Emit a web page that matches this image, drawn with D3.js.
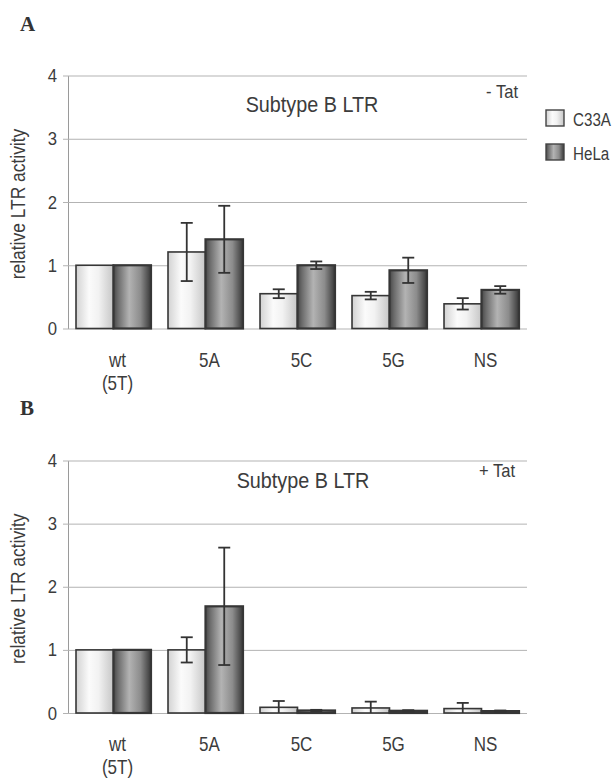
<!DOCTYPE html>
<html>
<head>
<meta charset="utf-8">
<script src="https://cdn.jsdelivr.net/npm/d3@7"></script>
<style>
  html, body { margin: 0; padding: 0; background: #fff; }
  svg { display: block; }
  text { font-family: "Liberation Sans", Arial, sans-serif; fill: #3c3c3c; }
</style>
</head>
<body>
<script>
var
  categories = [['wt', '(5T)'], ['5A'], ['5C'], ['5G'], ['NS']],
  cellLines  = ['C33A', 'HeLa'],
  yTicks     = [0, 1, 2, 3, 4],

  // panel A, - Tat
  noTatC33A     = [1, 1.21, 0.55, 0.52, 0.39],
  noTatC33AErr  = [0, 0.46, 0.07, 0.06, 0.09],
  noTatHeLa     = [1, 1.41, 1.00, 0.92, 0.61],
  noTatHeLaErr  = [0, 0.53, 0.06, 0.20, 0.06],

  // panel B, + Tat
  tatC33A       = [1, 1.00, 0.09, 0.08, 0.07],
  tatC33AErr    = [0, 0.20, 0.10, 0.10, 0.09],
  tatHeLa       = [1, 1.69, 0.04, 0.035, 0.03],
  tatHeLaErr    = [0, 0.93, 0.01, 0.01, 0.01],

  config = {
    w      : 616,
    h      : 778,
    left   : 68,
    right  : 527,
    panels : [
      { letter: 'A', letterY: 31,  top: 75.5,  zero: 328.5, tat: '- Tat', tatX: 518, tatY: 98,
        titleX: 312, titleY: 112, legend: true,
        c33a: noTatC33A, c33aErr: noTatC33AErr, hela: noTatHeLa, helaErr: noTatHeLaErr },
      { letter: 'B', letterY: 415, top: 460.5, zero: 713,   tat: '+ Tat', tatX: 515, tatY: 477,
        titleX: 303, titleY: 488, legend: false,
        c33a: tatC33A, c33aErr: tatC33AErr, hela: tatHeLa, helaErr: tatHeLaErr }
    ]
  },

  svg,

  catName = function catName(c) {
    return c.join(' ');
  },

  // the scan has tall, narrow lettering: squeeze text horizontally
  addText = function addText(parent, x, y, str, size, sx, anchor, rotate) {
    var g = parent.append('g')
      .attr('transform', 'translate(' + x + ',' + y + ')' + (rotate ? ' rotate(' + rotate + ')' : '') + ' scale(' + sx + ',1)');

    return g.append('text')
      .attr('text-anchor', anchor || 'start')
      .attr('font-size', size)
      .text(str);
  },

  addGradients = function addGradients(svg) {
    var defs = svg.append('defs');

    defs.append('linearGradient').attr('id', 'gradC33A')
      .selectAll('stop')
      .data([[0, '#d2d2d2'], [0.35, '#fbfbfb'], [0.6, '#f2f2f2'], [1, '#c6c6c6']])
      .enter().append('stop')
      .attr('offset', function (d) { return d[0]; })
      .attr('stop-color', function (d) { return d[1]; });

    defs.append('linearGradient').attr('id', 'gradHeLa')
      .selectAll('stop')
      .data([[0, '#474747'], [0.12, '#6b6b6b'], [0.42, '#b3b3b3'], [0.72, '#8c8c8c'], [1, '#383838']])
      .enter().append('stop')
      .attr('offset', function (d) { return d[0]; })
      .attr('stop-color', function (d) { return d[1]; });
  },

  drawPanel = function drawPanel(svg, p) {
    var
      x = d3.scaleBand()
        .domain(categories.map(catName))
        .range([config.left, config.right])
        .paddingInner(0.185)
        .paddingOuter(0.087),
      sub = d3.scaleBand().domain(cellLines).range([0, x.bandwidth()]),
      y = d3.scaleLinear().domain([0, 4]).range([p.zero, p.top]),
      g = svg.append('g'),
      rows = [],
      i;

    for (i = 0; i < categories.length; i++) {
      rows.push({ cat: catName(categories[i]), line: 'C33A', v: p.c33a[i], e: p.c33aErr[i] });
      rows.push({ cat: catName(categories[i]), line: 'HeLa', v: p.hela[i], e: p.helaErr[i] });
    }

    // axis + gridlines
    var axis = g.append('g')
      .attr('transform', 'translate(' + config.left + ',0)')
      .call(d3.axisLeft(y).tickValues(yTicks).tickFormat(d3.format('d'))
        .tickSizeInner(-(config.right - config.left)).tickSizeOuter(0).tickPadding(11));

    axis.select('.domain').attr('stroke', '#9a9a9a').attr('stroke-width', 1);
    axis.selectAll('.tick line').attr('x1', -5).attr('stroke', '#b3b3b3').attr('stroke-width', 1);
    axis.selectAll('.tick text')
      .attr('font-size', 19).attr('fill', '#3c3c3c')
      .attr('x', -11 / 0.88)
      .attr('transform', 'scale(0.88,1)')
      .style('font-family', '"Liberation Sans", Arial, sans-serif');

    // bars
    g.selectAll('rect.bar').data(rows).enter().append('rect')
      .attr('class', 'bar')
      .attr('x', function (d) { return x(d.cat) + sub(d.line); })
      .attr('y', function (d) { return y(d.v); })
      .attr('width', sub.bandwidth())
      .attr('height', function (d) { return y(0) - y(d.v); })
      .attr('fill', function (d) { return 'url(#grad' + d.line + ')'; })
      .attr('stroke', '#363636')
      .attr('stroke-width', function (d) { return d.line === 'HeLa' ? 2.2 : 1.6; });

    // error bars
    var errRows = rows.filter(function (d) { return d.e > 0; }),
      cx = function (d) { return x(d.cat) + sub(d.line) + sub.bandwidth() / 2; },
      hi = function (d) { return y(d.v + d.e); },
      lo = function (d) { return y(Math.max(0, d.v - d.e)); },
      eg = g.append('g').attr('stroke', '#333').attr('stroke-width', 1.8);

    eg.selectAll('line.stem').data(errRows).enter().append('line')
      .attr('x1', cx).attr('x2', cx).attr('y1', hi).attr('y2', lo);
    eg.selectAll('line.capHi').data(errRows).enter().append('line')
      .attr('x1', function (d) { return cx(d) - 6; })
      .attr('x2', function (d) { return cx(d) + 6; })
      .attr('y1', hi).attr('y2', hi);
    eg.selectAll('line.capLo').data(errRows.filter(function (d) { return d.v - d.e > 0; })).enter().append('line')
      .attr('x1', function (d) { return cx(d) - 6; })
      .attr('x2', function (d) { return cx(d) + 6; })
      .attr('y1', lo).attr('y2', lo);

    // category labels
    categories.forEach(function (c) {
      var cxl = x(catName(c)) + x.bandwidth() / 2 + 4;
      c.forEach(function (line, j) {
        addText(g, cxl, p.zero + 38 + j * 23, line, 20, 0.85, 'middle');
      });
    });

    // texts
    addText(g, 25, (p.top + p.zero) / 2 + 2, 'relative LTR activity', 20, 0.87, 'middle', -90);
    addText(g, p.titleX, p.titleY, 'Subtype B LTR', 22, 0.9, 'middle');
    addText(g, p.tatX, p.tatY, p.tat, 18, 0.92, 'end');

    addText(g, 20, p.letterY, p.letter, 21, 1, 'start')
      .attr('font-weight', 'bold')
      .style('font-family', '"Liberation Serif", "Times New Roman", serif')
      .style('fill', '#333');

    if (p.legend) {
      var lg = g.selectAll('g.legend').data(cellLines).enter().append('g')
        .attr('class', 'legend')
        .attr('transform', function (d, j) { return 'translate(546,' + (110 + j * 34) + ')'; });

      lg.append('rect')
        .attr('width', 18).attr('height', 16)
        .attr('fill', function (d) { return 'url(#grad' + d + ')'; })
        .attr('stroke', '#444').attr('stroke-width', 1.4);

      lg.each(function (d) {
        addText(d3.select(this), 27, 16, d, 19, 0.8, 'start');
      });
    }
  },

  init = function init() {
    svg = d3.select('body').append('svg')
      .attr('width', config.w)
      .attr('height', config.h);

    addGradients(svg);
    config.panels.forEach(function (p) { drawPanel(svg, p); });
  };

init();
</script>
</body>
</html>
